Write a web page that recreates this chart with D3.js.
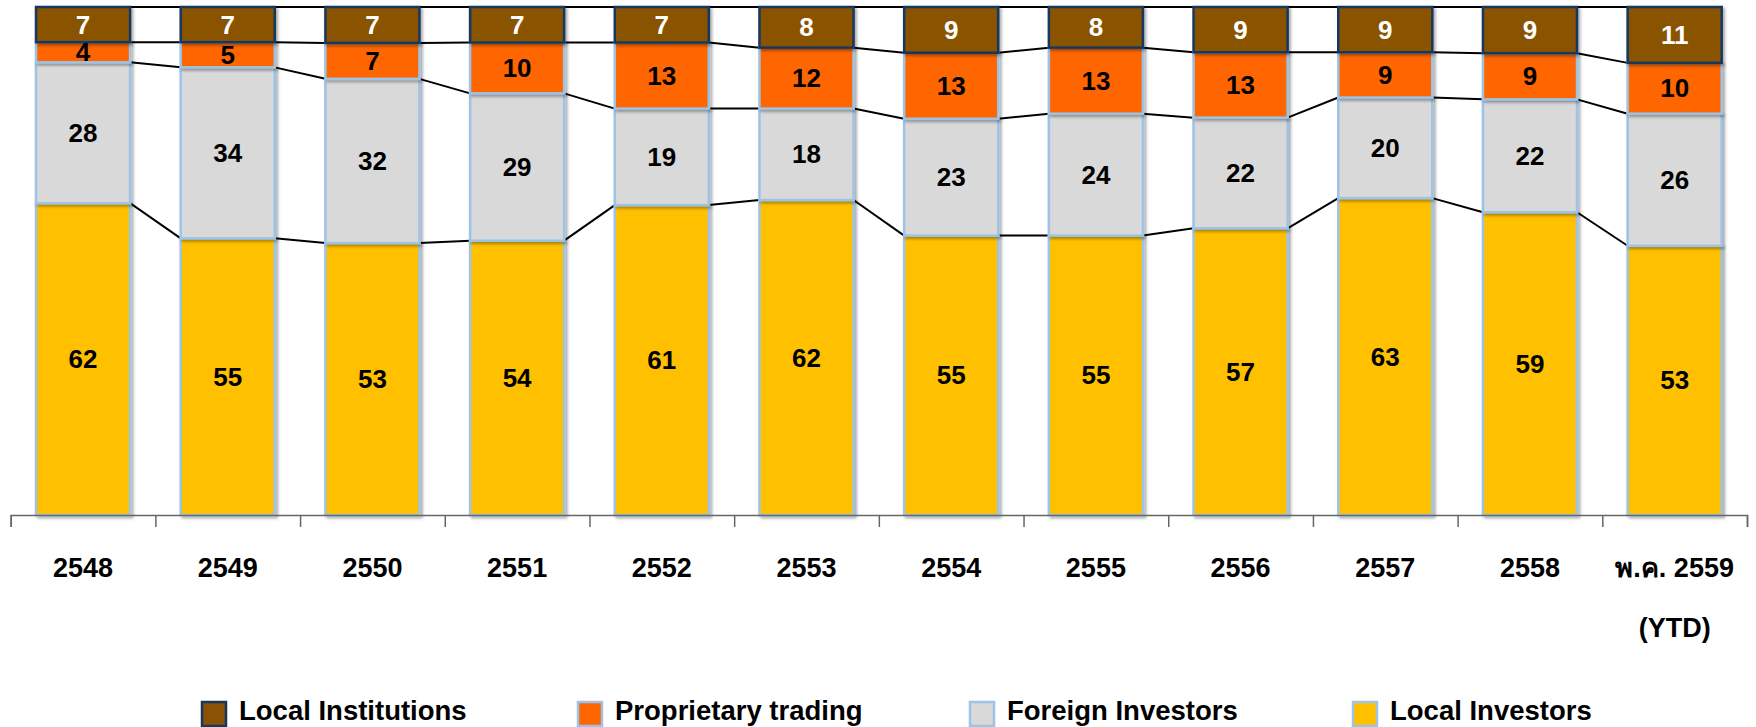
<!DOCTYPE html>
<html>
<head>
<meta charset="utf-8">
<script src="https://cdn.jsdelivr.net/npm/d3@7"></script>
<style>
  body { margin: 0; background: #fff; }
  svg { display: block; font-family: "Liberation Sans", Arial, sans-serif; }
</style>
</head>
<body>
<svg id="chart" width="1756" height="727"></svg>
<script>
// categories (last one is two lines)
const years = ['2548', '2549', '2550', '2551', '2552', '2553', '2554', '2555', '2556', '2557', '2558', 'พ.ค. 2559|(YTD)'];

// series values, bottom of stack first
const localInvestors    = [62, 55, 53, 54, 61, 62, 55, 55, 57, 63, 59, 53];
const foreignInvestors  = [28, 34, 32, 29, 19, 18, 23, 24, 22, 20, 22, 26];
const proprietary       = [4, 5, 7, 10, 13, 12, 13, 13, 13, 9, 9, 10];
const localInstitutions = [7, 7, 7, 7, 7, 8, 9, 8, 9, 9, 9, 11];

const seriesKeys = ['localInvestors', 'foreignInvestors', 'proprietary', 'localInstitutions'];
const seriesNames = {
    localInvestors: 'Local Investors',
    foreignInvestors: 'Foreign Investors',
    proprietary: 'Proprietary trading',
    localInstitutions: 'Local Institutions'
};
const fills = {
    localInvestors: '#FFC000',
    foreignInvestors: '#D9D9D9',
    proprietary: '#FF6600',
    localInstitutions: '#895205'
};
const strokes = {
    localInvestors: '#9DC3E6',
    foreignInvestors: '#9DC3E6',
    proprietary: '#9DC3E6',
    localInstitutions: '#17375E'
};

let rows = years.map((y, i) => ({
    year: y,
    localInvestors: localInvestors[i],
    foreignInvestors: foreignInvestors[i],
    proprietary: proprietary[i],
    localInstitutions: localInstitutions[i]
}));

let svg = d3.select('#chart');

// soft shadow like the office chart
let defs = svg.append('defs');
defs.append('filter').attr('id', 'shadow').attr('x', '-10%').attr('y', '-10%').attr('width', '130%').attr('height', '130%')
    .append('feDropShadow').attr('dx', 2).attr('dy', 2).attr('stdDeviation', 1.5)
    .attr('flood-color', '#000').attr('flood-opacity', 0.35);

let plotLeft = 10.7, plotRight = 1747, plotTop = 7, plotBottom = 515;

let x = d3.scaleBand().domain(years).range([plotLeft, plotRight]).paddingInner(0.35).paddingOuter(0.175);
let xEdges = d3.scaleLinear().domain([0, years.length]).range([plotLeft, plotRight]);
let y = d3.scaleLinear().domain([0, 1]).range([plotBottom, plotTop]);

let stacked = d3.stack().keys(seriesKeys).offset(d3.stackOffsetExpand)(rows);

// connector lines between bars at each boundary
let lineG = svg.append('g');
stacked.forEach(layer => {
    for (let i = 0; i < layer.length - 1; i++) {
        lineG.append('line')
            .attr('x1', x(years[i]) + x.bandwidth())
            .attr('x2', x(years[i + 1]))
            .attr('y1', y(layer[i][1]))
            .attr('y2', y(layer[i + 1][1]))
            .attr('stroke', '#000').attr('stroke-width', 2);
    }
});

// bars
let barG = svg.append('g');
stacked.forEach(layer => {
    barG.append('g').selectAll('rect').data(layer).join('rect')
        .attr('x', d => x(d.data.year))
        .attr('width', x.bandwidth())
        .attr('y', d => y(d[1]))
        .attr('height', d => y(d[0]) - y(d[1]))
        .attr('fill', fills[layer.key])
        .attr('stroke', strokes[layer.key])
        .attr('stroke-width', 2.5)
        .attr('filter', 'url(#shadow)');
});

// value labels
stacked.forEach(layer => {
    svg.append('g').selectAll('text').data(layer).join('text')
        .attr('x', d => x(d.data.year) + x.bandwidth() / 2)
        .attr('y', d => (y(d[0]) + y(d[1])) / 2)
        .attr('text-anchor', 'middle')
        .attr('dominant-baseline', 'central')
        .attr('font-size', 26).attr('font-weight', 'bold')
        .attr('fill', layer.key === 'localInstitutions' ? '#fff' : '#000')
        .text(d => d.data[layer.key]);
});

// x axis with ticks at the band edges
let axis = svg.append('g').attr('transform', 'translate(0,' + plotBottom + ')')
    .call(d3.axisBottom(xEdges).ticks(years.length).tickSize(12).tickFormat(''));
axis.select('.domain').attr('stroke', '#666').attr('stroke-width', 1.5);
axis.selectAll('.tick line').attr('stroke', '#666').attr('stroke-width', 1.5);

// category labels
let catG = svg.append('g').selectAll('text').data(years).join('text')
    .attr('x', d => x(d) + x.bandwidth() / 2)
    .attr('y', 577)
    .attr('text-anchor', 'middle')
    .attr('font-size', 27).attr('font-weight', 'bold')
    .attr('fill', '#000');
catG.each(function (d) {
    let parts = d.split('|');
    let t = d3.select(this);
    parts.forEach((p, k) => {
        t.append('tspan').attr('x', x(d) + x.bandwidth() / 2).attr('dy', k === 0 ? 0 : 60).text(p);
    });
});

// legend
const legendOrder = ['localInstitutions', 'proprietary', 'foreignInvestors', 'localInvestors'];
const legendX = [201, 577, 969, 1352];
let legend = svg.append('g');
legendOrder.forEach((k, i) => {
    let g = legend.append('g').attr('transform', 'translate(' + legendX[i] + ',701)');
    g.append('rect').attr('x', 1).attr('y', 1).attr('width', 24).attr('height', 24)
        .attr('fill', fills[k]).attr('stroke', strokes[k]).attr('stroke-width', 2.5);
    g.append('text').attr('x', 38).attr('y', 19)
        .attr('font-size', 27.5).attr('font-weight', 'bold').attr('fill', '#000')
        .text(seriesNames[k]);
});
</script>
</body>
</html>
